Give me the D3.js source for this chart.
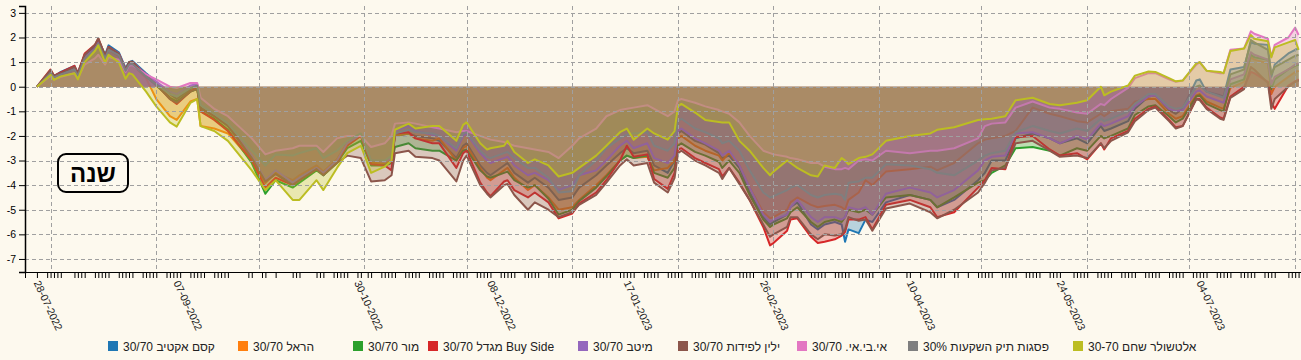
<!DOCTYPE html>
<html><head><meta charset="utf-8">
<script src="https://cdn.jsdelivr.net/npm/d3@7"></script>
<style>
html,body{margin:0;padding:0;background:#fdf9ee;}
svg{display:block;font-family:"Liberation Sans",Arial,sans-serif;}
</style></head>
<body><svg id="chart" width="1301" height="360"></svg>
<script>
// ---------- data ----------
const seriesNames = ["30/70 קסם אקטיב","30/70 הראל","30/70 מור","30/70 מגדל Buy Side","30/70 מיטב","30/70 ילין לפידות","30/70 .אי.בי.אי","30% פסגות תיק השקעות","30-70 אלטשולר שחם"];
const seriesColors = ["#1f77b4","#ff7f0e","#2ca02c","#d62728","#9467bd","#8c564b","#e377c2","#7f7f7f","#bcbd22"];
const sampleDates = [
"2022-07-28","2022-08-01","2022-08-02","2022-08-04","2022-08-08","2022-08-09","2022-08-11","2022-08-14","2022-08-15","2022-08-17",
"2022-08-18","2022-08-21","2022-08-23","2022-08-24","2022-08-25","2022-08-29","2022-09-01","2022-09-05","2022-09-07","2022-09-11",
"2022-09-13","2022-09-14","2022-09-18","2022-09-22","2022-09-29","2022-10-03","2022-10-06","2022-10-11","2022-10-13","2022-10-18",
"2022-10-20","2022-10-24","2022-10-27","2022-10-31","2022-11-03","2022-11-07","2022-11-09","2022-11-10","2022-11-14","2022-11-16",
"2022-11-21","2022-11-23","2022-11-28","2022-11-30","2022-12-01","2022-12-05","2022-12-07","2022-12-08","2022-12-12","2022-12-13",
"2022-12-15","2022-12-19","2022-12-21","2022-12-25","2022-12-28","2023-01-01","2023-01-03","2023-01-08","2023-01-11","2023-01-15",
"2023-01-17","2023-01-19","2023-01-23","2023-01-25","2023-01-29","2023-01-31","2023-02-01","2023-02-02","2023-02-06","2023-02-09",
"2023-02-13","2023-02-14","2023-02-16","2023-02-19","2023-02-22","2023-02-26","2023-02-28","2023-03-01","2023-03-05","2023-03-06",
"2023-03-08","2023-03-12","2023-03-14","2023-03-16","2023-03-19","2023-03-21","2023-03-22","2023-03-23","2023-03-26","2023-03-28",
"2023-03-30","2023-04-03","2023-04-10","2023-04-16","2023-04-18","2023-04-23","2023-04-30","2023-05-02","2023-05-04","2023-05-08",
"2023-05-11","2023-05-16","2023-05-21","2023-05-24","2023-05-29","2023-06-01","2023-06-05","2023-06-06","2023-06-08","2023-06-13",
"2023-06-15","2023-06-19","2023-06-21","2023-06-25","2023-06-27","2023-06-29","2023-07-03","2023-07-04","2023-07-06","2023-07-10",
"2023-07-11","2023-07-13","2023-07-17","2023-07-19","2023-07-20","2023-07-24","2023-07-25","2023-07-26","2023-07-30","2023-08-01","2023-08-02"];

const kesem = [
0,0.62,0.42,0.6,0.85,0.55,1.3,1.6,1.9,1.3,
1.68,1.4,0.75,1.0,1.05,0.55,0.2,-0.3,-0.5,-0.1,
0.0,-0.85,-1.2,-1.6,-2.9,-3.9,-3.5,-3.9,-3.7,-3.3,
-3.6,-3.0,-2.3,-1.95,-3.1,-3.15,-3.0,-2.0,-1.9,-2.0,
-2.1,-2.2,-2.9,-2.4,-2.3,-3.2,-3.5,-3.6,-3.2,-3.1,
-3.5,-3.9,-3.7,-4.1,-4.6,-4.5,-4.1,-3.6,-3.2,-2.7,
-2.5,-2.7,-2.6,-3.2,-3.5,-3.0,-1.9,-1.8,-2.2,-2.35,
-2.7,-2.9,-2.8,-3.3,-4.3,-5.3,-5.6,-5.5,-5.2,-4.9,
-4.7,-5.6,-5.8,-5.6,-5.5,-5.6,-6.3,-5.8,-5.95,-5.4,
-5.5,-4.7,-4.4,-4.6,-4.9,-4.6,-3.8,-3.5,-3.0,-3.0,
-2.1,-1.9,-2.1,-2.3,-2.1,-2.3,-1.6,-1.8,-1.7,-1.4,
-0.9,-0.4,-0.35,-0.95,-1.1,-0.9,0.25,0.3,-0.2,-0.35,
-0.4,0.7,0.8,1.8,1.75,1.7,0.4,0.9,1.35,1.5,1.55];
const harel = [
0,0.55,0.38,0.5,0.72,0.45,1.15,1.5,1.75,1.15,
1.5,1.25,0.62,0.85,0.9,0.35,-0.5,-1.2,-1.35,-0.6,
-0.5,-1.6,-1.7,-1.9,-3.0,-3.9,-3.5,-3.8,-3.6,-3.2,
-3.45,-2.95,-2.3,-2.0,-3.1,-3.1,-2.95,-2.0,-1.9,-2.1,
-2.2,-2.1,-3.0,-2.5,-2.4,-3.3,-3.7,-3.8,-3.4,-3.3,
-3.7,-4.2,-4.0,-4.5,-5.0,-4.9,-4.6,-4.0,-3.6,-3.0,
-2.8,-2.9,-2.85,-3.4,-3.3,-3.0,-2.1,-2.0,-2.4,-2.6,
-2.8,-3.0,-2.7,-3.2,-4.1,-5.1,-5.35,-5.3,-5.0,-4.7,
-4.5,-4.8,-4.9,-4.85,-4.8,-4.9,-5.0,-4.6,-4.3,-3.8,
-4.0,-3.45,-3.35,-3.25,-3.4,-3.1,-2.3,-2.15,-2.1,-2.0,
-1.8,-0.85,-1.1,-1.2,-1.4,-1.45,-1.1,-1.2,-1.0,-0.9,
-0.6,-0.5,-0.5,-1.1,-1.3,-1.2,-0.35,-0.3,-0.6,-0.85,
-0.9,-0.05,0.2,1.2,1.1,0.95,-0.3,0.0,0.4,0.6,0.65];
const mor = [
0,0.6,0.4,0.52,0.75,0.5,1.2,1.55,1.8,1.2,
1.55,1.3,0.65,0.88,0.9,0.4,0.05,-0.45,-0.6,-0.2,
-0.1,-1.0,-1.3,-1.75,-3.1,-4.35,-3.8,-4.1,-3.9,-3.4,
-3.6,-3.1,-2.5,-2.2,-3.2,-3.2,-3.1,-2.45,-2.3,-2.5,
-2.6,-2.6,-3.0,-2.6,-2.55,-3.4,-3.65,-3.7,-3.5,-3.45,
-3.8,-4.1,-4.0,-4.55,-5.2,-5.0,-4.65,-4.1,-3.65,-3.0,
-2.8,-2.9,-2.8,-3.5,-3.7,-3.3,-2.4,-2.3,-2.65,-2.8,
-3.05,-3.3,-3.0,-3.5,-4.4,-5.4,-5.7,-5.6,-5.35,-5.1,
-4.9,-5.5,-5.7,-5.5,-5.4,-5.5,-5.3,-5.0,-5.1,-5.0,
-5.2,-4.5,-4.4,-4.6,-4.9,-4.5,-3.9,-3.8,-3.5,-3.2,
-2.5,-2.45,-2.6,-2.8,-2.5,-2.6,-2.0,-2.1,-2.0,-1.7,
-1.15,-0.8,-0.75,-1.2,-1.45,-1.3,-0.4,-0.35,-0.7,-0.95,
-1.0,0.1,0.3,1.3,1.2,1.1,-0.1,0.3,0.7,0.85,0.9];
const migdal = [
0,0.7,0.45,0.58,0.85,0.55,1.35,1.7,1.95,1.25,
1.62,1.35,0.7,0.95,1.0,0.5,0.1,-0.5,-0.7,-0.2,
-0.05,-1.0,-1.35,-1.8,-3.0,-4.1,-3.7,-4.0,-3.8,-3.35,
-3.55,-3.05,-2.4,-2.0,-3.15,-3.2,-3.4,-1.9,-1.85,-2.1,
-2.3,-2.3,-3.3,-2.7,-2.6,-3.9,-4.3,-4.45,-3.85,-3.8,
-4.2,-4.5,-4.3,-4.7,-5.35,-5.15,-4.75,-4.3,-3.8,-3.0,
-2.4,-2.85,-2.75,-3.75,-4.15,-3.5,-2.55,-2.5,-2.9,-3.1,
-3.35,-3.65,-3.3,-3.9,-4.6,-5.7,-6.45,-6.35,-5.85,-5.4,
-5.35,-6.1,-6.35,-6.3,-6.2,-6.05,-5.9,-5.4,-5.4,-5.3,
-5.8,-4.8,-4.6,-4.9,-5.3,-5.1,-4.1,-3.8,-3.3,-3.35,
-2.05,-2.0,-2.55,-2.8,-2.7,-2.95,-2.3,-2.55,-2.1,-1.8,
-1.3,-0.9,-0.8,-1.35,-1.65,-1.6,-0.5,-0.5,-0.85,-1.25,
-1.3,-0.4,0.0,0.6,0.55,0.2,-0.65,-0.9,0.05,0.22,0.3];
const meitav = [
0,0.6,0.4,0.52,0.75,0.5,1.2,1.55,1.8,1.2,
1.58,1.35,0.72,0.95,1.0,0.5,0.2,-0.2,-0.3,0.05,
0.1,-0.75,-1.1,-1.5,-2.8,-3.8,-3.4,-3.9,-3.7,-3.3,
-3.5,-3.0,-2.3,-1.95,-3.0,-3.05,-2.9,-1.8,-1.6,-1.8,
-1.95,-2.0,-2.6,-2.0,-1.9,-2.7,-3.0,-3.1,-2.9,-2.85,
-3.2,-3.6,-3.5,-3.8,-4.2,-4.0,-3.6,-3.4,-3.0,-2.4,
-2.2,-2.5,-2.3,-2.9,-3.1,-2.8,-1.8,-1.7,-2.1,-2.3,
-2.6,-2.8,-2.6,-3.2,-4.1,-5.2,-5.5,-5.4,-5.2,-4.9,
-4.6,-5.3,-5.5,-5.3,-5.3,-5.4,-5.3,-4.9,-5.0,-4.9,
-5.2,-4.35,-4.1,-4.3,-4.5,-4.2,-3.4,-3.0,-2.85,-2.8,
-1.9,-1.85,-2.1,-2.3,-2.0,-2.15,-1.5,-1.6,-1.5,-1.2,
-0.8,-0.4,-0.35,-0.9,-1.0,-0.95,-0.2,-0.15,-0.4,-0.6,
-0.65,0.3,0.5,1.4,1.3,1.1,0.1,0.4,0.7,0.9,0.95];
const yelin = [
0,0.68,0.45,0.55,0.8,0.55,1.3,1.7,1.97,1.25,
1.6,1.35,0.7,1.0,1.02,0.45,0.1,-0.5,-0.65,-0.2,
-0.1,-0.9,-1.2,-1.55,-2.9,-3.85,-3.55,-4.0,-3.8,-3.35,
-3.6,-3.1,-2.8,-2.9,-3.85,-3.8,-3.6,-2.7,-2.6,-2.85,
-2.9,-3.0,-3.85,-3.0,-2.8,-4.0,-4.35,-4.5,-4.0,-3.95,
-4.4,-5.0,-4.7,-5.0,-5.3,-5.1,-4.8,-4.4,-3.9,-3.2,
-2.95,-3.2,-3.1,-3.9,-4.3,-3.7,-2.7,-2.6,-3.0,-3.2,
-3.5,-3.75,-3.3,-3.95,-4.6,-5.6,-6.1,-6.0,-5.7,-5.3,
-5.3,-6.0,-6.2,-6.0,-6.05,-6.0,-5.8,-5.3,-5.45,-5.4,
-5.85,-4.95,-4.75,-5.1,-5.35,-5.0,-4.3,-3.9,-3.4,-3.3,
-2.3,-2.2,-2.6,-2.85,-2.8,-2.9,-2.3,-2.5,-2.2,-1.85,
-1.4,-0.95,-0.85,-1.4,-1.7,-1.6,-0.5,-0.55,-0.9,-1.3,
-1.35,-0.45,-0.1,0.8,0.7,0.15,-0.9,-0.5,0.0,0.2,0.25];
const ibi = [
0,0.45,0.3,0.4,0.55,0.35,0.9,1.15,1.3,0.9,
1.2,1.1,0.6,0.85,0.88,0.5,0.3,0.0,-0.05,0.15,
0.15,-0.45,-0.9,-1.2,-2.1,-2.75,-2.6,-2.5,-2.4,-2.4,
-2.65,-2.1,-2.0,-2.0,-2.45,-2.3,-2.0,-1.5,-1.45,-1.5,
-1.65,-1.7,-1.85,-1.8,-1.8,-2.0,-2.1,-2.15,-2.25,-2.3,
-2.4,-2.5,-2.55,-2.65,-2.9,-2.4,-2.1,-1.7,-1.2,-0.95,
-0.9,-0.85,-0.75,-0.9,-1.2,-1.0,-0.55,-0.5,-0.65,-0.8,
-0.95,-1.0,-1.1,-1.45,-2.0,-2.6,-2.7,-2.75,-2.85,-2.9,
-2.95,-3.1,-3.1,-3.25,-3.35,-3.35,-3.3,-3.35,-3.0,-2.95,
-3.0,-2.6,-2.7,-2.6,-2.6,-2.5,-2.1,-1.6,-1.5,-1.45,
-0.85,-0.6,-0.85,-0.9,-1.05,-1.1,-0.7,-0.75,-0.5,-0.05,
0.35,0.55,0.55,0.3,0.2,0.25,0.9,1.0,0.65,0.55,
0.55,1.5,1.55,2.25,2.15,1.95,1.2,1.7,2.0,2.4,2.1];
const psagot = [
0,0.55,0.38,0.5,0.7,0.45,1.15,1.5,1.75,1.15,
1.5,1.28,0.65,0.9,0.92,0.42,0.1,-0.3,-0.4,-0.05,
0.05,-0.75,-1.1,-1.5,-2.6,-3.2,-2.75,-2.8,-2.7,-2.5,
-2.9,-2.6,-2.2,-1.9,-3.0,-3.0,-2.8,-1.9,-1.75,-1.85,
-1.9,-2.0,-2.5,-1.9,-1.85,-2.6,-2.85,-2.9,-2.7,-2.65,
-2.9,-3.3,-3.3,-3.7,-4.3,-4.25,-3.6,-3.0,-2.5,-2.1,
-1.95,-1.9,-1.85,-2.4,-2.6,-2.3,-1.4,-1.3,-1.7,-1.85,
-2.1,-2.3,-2.2,-2.6,-3.4,-4.3,-4.5,-4.45,-4.2,-4.1,
-4.0,-4.4,-4.5,-4.4,-4.35,-4.4,-4.6,-3.9,-3.85,-3.7,
-3.7,-3.15,-3.2,-3.35,-3.5,-3.6,-3.0,-2.8,-2.7,-2.6,
-1.85,-1.6,-1.8,-1.9,-1.7,-1.8,-1.3,-1.4,-1.3,-1.0,
-0.7,-0.3,-0.3,-0.8,-0.9,-0.85,0.0,0.05,-0.2,-0.4,
-0.45,0.5,0.7,1.9,1.8,1.5,0.5,0.8,1.1,1.25,1.3];
const altshuler = [
0,0.48,0.28,0.42,0.55,0.3,1.0,1.45,1.68,0.98,
1.3,1.0,0.32,0.55,0.5,-0.2,-0.8,-1.45,-1.62,-0.66,
-0.5,-1.6,-1.8,-2.2,-3.4,-4.2,-3.8,-4.6,-4.6,-3.8,
-4.2,-3.3,-2.7,-2.4,-3.5,-3.25,-3.0,-1.75,-1.5,-1.7,
-1.6,-1.6,-2.2,-1.55,-1.45,-2.3,-2.55,-2.5,-2.4,-2.2,
-2.65,-3.1,-2.95,-3.2,-3.65,-3.5,-3.3,-2.8,-2.4,-1.85,
-1.7,-2.15,-1.7,-1.9,-2.15,-1.8,-0.8,-0.7,-1.05,-1.35,
-1.43,-1.45,-1.45,-2.2,-2.6,-3.3,-3.6,-3.45,-3.0,-3.1,
-3.3,-3.6,-3.65,-3.2,-3.3,-2.9,-3.0,-3.15,-2.9,-2.85,
-2.75,-2.2,-2.0,-1.9,-1.75,-1.65,-1.35,-1.32,-1.3,-1.2,
-0.55,-0.45,-0.7,-0.75,-0.65,-0.55,0.0,-0.35,-0.2,0.05,
0.45,0.62,0.6,0.35,0.22,0.25,0.95,1.0,0.65,0.6,
0.55,1.45,1.55,2.1,1.95,1.85,1.2,1.6,1.8,1.9,1.5];
const seriesValues = [kesem, harel, mor, migdal, meitav, yelin, ibi, psagot, altshuler];

const tradingDays = [
"2022-07-28","2022-07-31",
"2022-08-01","2022-08-02","2022-08-03","2022-08-04","2022-08-08","2022-08-09","2022-08-10","2022-08-11","2022-08-14","2022-08-15","2022-08-16","2022-08-17","2022-08-18","2022-08-21","2022-08-22","2022-08-23","2022-08-24","2022-08-25","2022-08-28","2022-08-29","2022-08-30","2022-08-31",
"2022-09-01","2022-09-04","2022-09-05","2022-09-06","2022-09-07","2022-09-08","2022-09-11","2022-09-12","2022-09-13","2022-09-14","2022-09-15","2022-09-18","2022-09-19","2022-09-20","2022-09-21","2022-09-22","2022-09-28","2022-09-29",
"2022-10-02","2022-10-03","2022-10-06","2022-10-11","2022-10-12","2022-10-13","2022-10-18","2022-10-19","2022-10-20","2022-10-23","2022-10-24","2022-10-25","2022-10-26","2022-10-27","2022-10-30","2022-10-31",
"2022-11-02","2022-11-03","2022-11-06","2022-11-07","2022-11-08","2022-11-09","2022-11-10","2022-11-13","2022-11-14","2022-11-15","2022-11-16","2022-11-17","2022-11-20","2022-11-21","2022-11-22","2022-11-23","2022-11-24","2022-11-27","2022-11-28","2022-11-29","2022-11-30",
"2022-12-01","2022-12-04","2022-12-05","2022-12-06","2022-12-07","2022-12-08","2022-12-11","2022-12-12","2022-12-13","2022-12-14","2022-12-15","2022-12-18","2022-12-19","2022-12-20","2022-12-21","2022-12-22","2022-12-25","2022-12-26","2022-12-27","2022-12-28","2022-12-29",
"2023-01-01","2023-01-02","2023-01-03","2023-01-04","2023-01-05","2023-01-08","2023-01-09","2023-01-10","2023-01-11","2023-01-12","2023-01-15","2023-01-16","2023-01-17","2023-01-18","2023-01-19","2023-01-22","2023-01-23","2023-01-24","2023-01-25","2023-01-26","2023-01-29","2023-01-30","2023-01-31",
"2023-02-01","2023-02-02","2023-02-05","2023-02-06","2023-02-07","2023-02-08","2023-02-09","2023-02-12","2023-02-13","2023-02-14","2023-02-15","2023-02-16","2023-02-19","2023-02-20","2023-02-21","2023-02-22","2023-02-23","2023-02-26","2023-02-27","2023-02-28",
"2023-03-01","2023-03-02","2023-03-05","2023-03-06","2023-03-08","2023-03-09","2023-03-12","2023-03-13","2023-03-14","2023-03-15","2023-03-16","2023-03-19","2023-03-20","2023-03-21","2023-03-22","2023-03-23","2023-03-26","2023-03-27","2023-03-28","2023-03-29","2023-03-30",
"2023-04-02","2023-04-03","2023-04-04","2023-04-09","2023-04-10","2023-04-13","2023-04-16","2023-04-17","2023-04-18","2023-04-19","2023-04-20","2023-04-23","2023-04-24","2023-04-27","2023-04-30",
"2023-05-01","2023-05-02","2023-05-03","2023-05-04","2023-05-07","2023-05-08","2023-05-09","2023-05-10","2023-05-11","2023-05-14","2023-05-15","2023-05-16","2023-05-17","2023-05-18","2023-05-21","2023-05-22","2023-05-23","2023-05-24","2023-05-28","2023-05-29","2023-05-30","2023-05-31",
"2023-06-01","2023-06-04","2023-06-05","2023-06-06","2023-06-07","2023-06-08","2023-06-11","2023-06-12","2023-06-13","2023-06-14","2023-06-15","2023-06-18","2023-06-19","2023-06-20","2023-06-21","2023-06-22","2023-06-25","2023-06-26","2023-06-27","2023-06-28","2023-06-29",
"2023-07-02","2023-07-03","2023-07-04","2023-07-05","2023-07-06","2023-07-09","2023-07-10","2023-07-11","2023-07-12","2023-07-13","2023-07-16","2023-07-17","2023-07-18","2023-07-19","2023-07-20","2023-07-23","2023-07-24","2023-07-25","2023-07-26","2023-07-30","2023-07-31",
"2023-08-01","2023-08-02"];
const labelDates = ["2022-07-28","2022-09-07","2022-10-30","2022-12-08","2023-01-17","2023-02-26","2023-04-10","2023-05-24","2023-07-04"];
const yTicks = [3,2,1,0,-1,-2,-3,-4,-5,-6,-7];
const periodLabel = "שנה";

// ---------- layout ----------
const parse = d3.timeParse("%Y-%m-%d");
const fmtKey = d3.timeFormat("%Y-%m-%d");
const fmtLabel = d3.timeFormat("%d-%m-%Y");
const svg = d3.select("#chart");
const x = d3.scaleTime().domain([new Date(2022,6,24,12), new Date(2023,7,3)]).range([25, 1302]);
const y = d3.scaleLinear().domain([-7.53, 3.28]).range([272, 6]);

const plotG = svg.append("g");

// series: area + line per series
const dates = sampleDates.map(parse);
seriesValues.forEach((vals, i) => {
  const pts = dates.map((d, j) => [d, vals[j]]);
  const area = d3.area().x(d => x(d[0])).y0(y(0)).y1(d => y(d[1]));
  const line = d3.line().x(d => x(d[0])).y(d => y(d[1]));
  plotG.append("path").attr("d", area(pts)).attr("fill", seriesColors[i]).attr("fill-opacity", 0.3).attr("stroke", "none");
  plotG.append("path").attr("d", line(pts)).attr("fill", "none").attr("stroke", seriesColors[i]).attr("stroke-width", 2).attr("stroke-linejoin", "round");
});

// grid
const gridTop = svg.append("g");
gridTop.selectAll("line.h").data(yTicks).join("line")
  .attr("x1", 25).attr("x2", 1301).attr("y1", d => Math.round(y(d)) + 0.5).attr("y2", d => Math.round(y(d)) + 0.5)
  .attr("stroke", "#a0a0a0").attr("stroke-dasharray", "4,3").attr("stroke-width", 1);
const months = d3.timeMonth.range(new Date(2022,7,1), new Date(2023,8,1)).filter(d => x(d) <= 1301);
gridTop.selectAll("line.v").data(months).join("line")
  .attr("x1", d => Math.round(x(d)) + 0.5).attr("x2", d => Math.round(x(d)) + 0.5).attr("y1", 6).attr("y2", 272)
  .attr("stroke", "#a0a0a0").attr("stroke-dasharray", "4,3").attr("stroke-width", 1);

// axes
const labelSet = new Set(labelDates);
const xAxis = d3.axisBottom(x).tickValues(tradingDays.map(parse)).tickSize(6)
  .tickFormat(d => labelSet.has(fmtKey(d)) ? fmtLabel(d) : "");
const gx = svg.append("g").attr("transform", "translate(0,272)").call(xAxis);
gx.selectAll("text").attr("transform", "rotate(65)").attr("x", 8).attr("y", 8).attr("dy", "0")
  .attr("text-anchor", "start").style("font-size", "10.5px").style("font-family", "'Liberation Sans',Arial,sans-serif").attr("fill", "#222");
gx.select(".domain").attr("stroke", "#000");

const yAxis = d3.axisLeft(y).tickValues(yTicks).tickSize(6).tickFormat(d => String(d));
const gy = svg.append("g").attr("transform", "translate(25,0)").call(yAxis);
gy.selectAll("text").style("font-size", "10.5px").style("font-family", "'Liberation Sans',Arial,sans-serif").attr("fill", "#000");
gy.select(".domain").attr("stroke", "#000").attr("stroke-width", 1.5);

// period box
const box = svg.append("g");
box.append("rect").attr("x", 58).attr("y", 154).attr("width", 70).attr("height", 38).attr("rx", 8)
  .attr("fill", "none").attr("stroke", "#000").attr("stroke-width", 2);
box.append("text").attr("x", 93).attr("y", 182).attr("text-anchor", "middle")
  .style("font-size", "24px").style("font-weight", "bold").style("font-family", "'Liberation Sans',Arial,sans-serif")
  .attr("fill", "#000").text(periodLabel);

// legend
const legendX = [108, 238, 353, 428, 578, 678, 797, 908, 1073];
const lg = svg.append("g");
seriesNames.forEach((n, i) => {
  lg.append("rect").attr("x", legendX[i]).attr("y", 341).attr("width", 10).attr("height", 10).attr("fill", seriesColors[i]);
  lg.append("text").attr("x", legendX[i] + 15).attr("y", 351).style("font-size", "12px")
    .style("font-family", "'Liberation Sans',Arial,sans-serif").attr("fill", "#222").text(n);
});
</script>
</body></html>
